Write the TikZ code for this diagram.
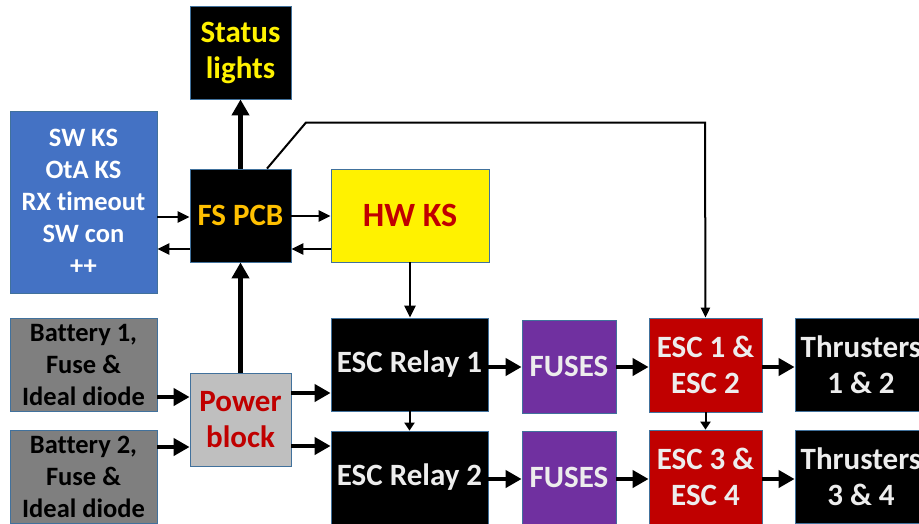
\documentclass[tikz,border=0pt]{standalone}
\usepackage{fontspec}
\setmainfont[Ligatures=NoCommon]{Carlito}
\usetikzlibrary{arrows.meta}
\definecolor{edgecol}{HTML}{41719C}
\definecolor{bluebox}{HTML}{4472C4}
\definecolor{orangetxt}{HTML}{FFC000}
\definecolor{darkred}{HTML}{C00000}
\definecolor{greybox}{HTML}{7F7F7F}
\definecolor{lightgrey}{HTML}{BFBFBF}
\definecolor{purplebox}{HTML}{7030A0}
\definecolor{lighttxt}{HTML}{EDEDED}
\tikzset{
  box/.style={draw=edgecol, line width=0.8pt, align=center, inner sep=0pt,
    font=\fontsize{31}{36}\selectfont\bfseries},
  smalltext/.style={font=\fontsize{26.5}{32}\selectfont\bfseries},
  hugetext/.style={font=\fontsize{34}{40}\selectfont\bfseries},
  thick arrow/.style={line width=4.5pt, -{Triangle[length=16pt,width=17pt]}},
  thin arrow/.style={line width=2.5pt, -{Triangle[length=12pt,width=11pt]}},
  plain line/.style={line width=2.5pt},
}
\begin{document}
\begin{tikzpicture}[x=1pt,y=-1pt]
\useasboundingbox (0,0) rectangle (919,523);
% nodes
\node[box, fill=black, text=yellow, minimum width=101pt, minimum height=93pt] (status) at (240.5,52.5) {Status\\lights};
\node[box, smalltext, fill=bluebox, text=white, minimum width=147pt, minimum height=182pt] (ks) at (83.5,202) {SW KS\\OtA KS\\RX timeout\\SW con\\++};
\node[box, fill=black, text=orangetxt, minimum width=101pt, minimum height=93pt] (fs) at (240.5,215.5) {FS PCB};
\node[box, hugetext, fill=yellow, text=darkred, minimum width=158pt, minimum height=93pt] (hw) at (410,215.5) {HW KS};
\node[box, smalltext, fill=greybox, text=black, minimum width=147pt, minimum height=93pt] (bat1) at (83.5,364.5) {Battery 1,\\Fuse \&\\Ideal diode};
\node[box, smalltext, fill=greybox, text=black, minimum width=147pt, minimum height=93pt] (bat2) at (83.5,476.5) {Battery 2,\\Fuse \&\\Ideal diode};
\node[box, fill=lightgrey, text=darkred, minimum width=101pt, minimum height=93pt] (pwr) at (240.5,419.5) {Power\\block};
\node[box, fill=black, text=lighttxt, minimum width=157pt, minimum height=93pt] (rel1) at (409.5,364.5) {ESC Relay 1};
\node[box, fill=black, text=lighttxt, minimum width=157pt, minimum height=93pt] (rel2) at (409.5,477.5) {ESC Relay 2};
\node[box, fill=purplebox, text=lighttxt, minimum width=94pt, minimum height=93pt] (fuse1) at (569,366.5) {FUSES};
\node[box, fill=purplebox, text=lighttxt, minimum width=94pt, minimum height=93pt] (fuse2) at (569,477.5) {FUSES};
\node[box, fill=darkred, text=lighttxt, minimum width=113pt, minimum height=94pt] (esc1) at (705.5,365) {ESC 1 \&\\ESC 2};
\node[box, fill=darkred, text=lighttxt, minimum width=113pt, minimum height=94pt] (esc2) at (705.5,477) {ESC 3 \&\\ESC 4};
\node[box, fill=black, text=lighttxt, minimum width=132pt, minimum height=93pt] (thr1) at (861,364.5) {Thrusters\\1 \& 2};
\node[box, fill=black, text=lighttxt, minimum width=132pt, minimum height=93pt] (thr2) at (861,476.5) {Thrusters\\3 \& 4};
\coordinate (bend1) at (306,122.5);
\coordinate (bend2) at (705,122.5);
% connectors
\draw[thick arrow] (fs.north) -- (status.south);
\draw[thick arrow] (pwr.north) -- (fs.south);
\draw[thin arrow] (ks.east |- 0,217) -- (fs.west |- 0,217);
\draw[thin arrow] (fs.west |- 0,249) -- (ks.east |- 0,249);
\draw[thin arrow] (fs.east |- 0,216) -- (hw.west |- 0,216);
\draw[thin arrow] (hw.west |- 0,249) -- (fs.east |- 0,249);
\draw[thin arrow] (hw.south) -- (rel1.north -| hw.south);
\draw[plain line, -{Triangle[length=10pt,width=9pt]}, line width=2pt] (fs.north -| 267,0) -- (bend1) -- (bend2) -- (esc1.north);
\draw[thick arrow] (bat1.east |- 0,397) -- (pwr.west |- 0,397);
\draw[thick arrow] (bat2.east |- 0,447) -- (pwr.west |- 0,447);
\draw[thick arrow] (pwr.east |- 0,393) -- (rel1.west |- 0,393);
\draw[thick arrow] (pwr.east |- 0,446) -- (rel2.west |- 0,446);
\draw[line width=2pt, -{Triangle[length=8pt,width=10pt]}] (rel1.south) -- (rel2.north);
\draw[thick arrow] (rel1.east |- 0,367) -- (fuse1.west |- 0,367);
\draw[thick arrow] (rel2.east |- 0,479) -- (fuse2.west |- 0,479);
\draw[thick arrow] (fuse1.east |- 0,367) -- (esc1.west |- 0,367);
\draw[thick arrow] (fuse2.east |- 0,479) -- (esc2.west |- 0,479);
\draw[line width=2pt, -{Triangle[length=8pt,width=10pt]}] (esc1.south) -- (esc2.north);
\draw[thick arrow] (esc1.east |- 0,367) -- (thr1.west |- 0,367);
\draw[thick arrow] (esc2.east |- 0,479) -- (thr2.west |- 0,479);
\end{tikzpicture}
\end{document}
